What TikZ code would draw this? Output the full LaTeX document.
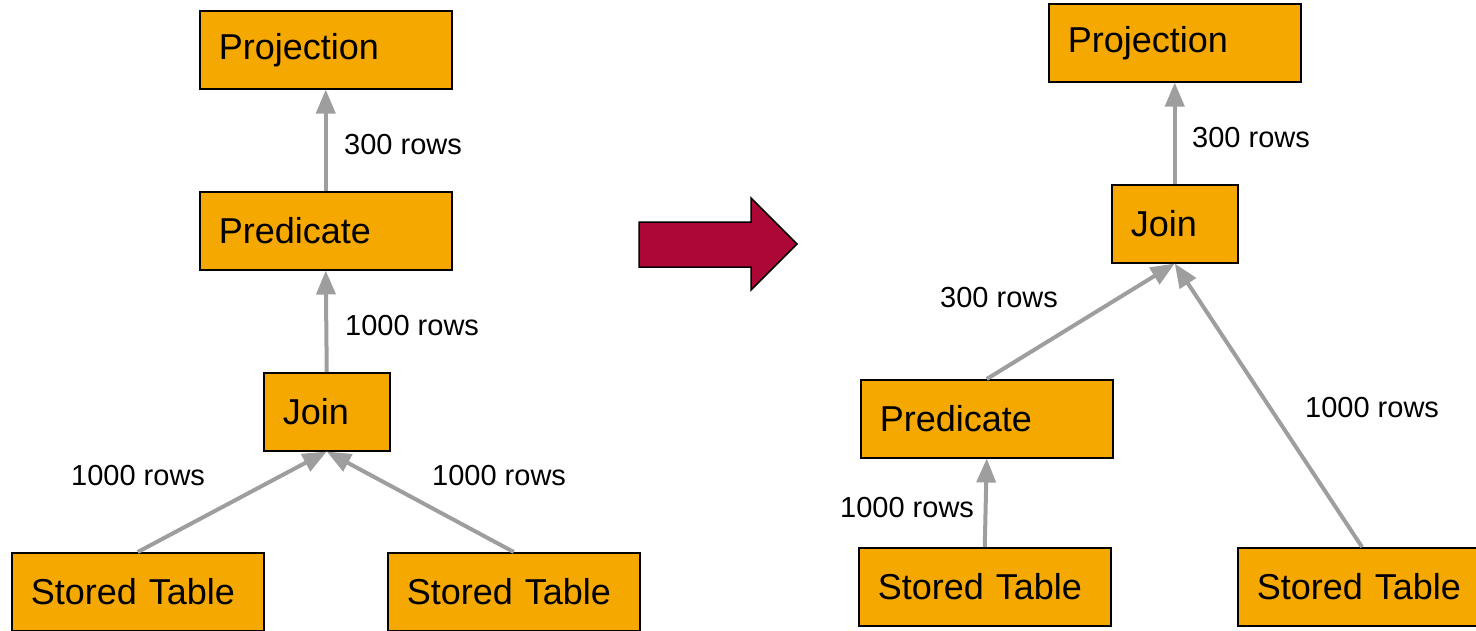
\documentclass[tikz,border=0pt]{standalone}
\usepackage{fontspec}
\setmainfont{Liberation Sans}
\usetikzlibrary{arrows.meta}
\definecolor{boxfill}{HTML}{F5A800}
\definecolor{edgegray}{HTML}{9E9E9E}
\definecolor{bigarrow}{HTML}{AD0737}
\tikzset{
  opbox/.style={draw=black, line width=1.5pt, fill=boxfill, anchor=north west,
    minimum height=78pt, inner xsep=19pt, inner ysep=0pt, align=left,
    font=\fontsize{36}{40}\selectfont},
  widebox/.style={opbox, text width=214pt},
  smallbox/.style={opbox, text width=88pt},
  flow/.style={draw=edgegray, line width=4pt, -{Triangle[length=24pt,width=19pt]}},
  rows/.style={anchor=west, inner sep=0pt, font=\fontsize{29}{32}\selectfont},
}
\begin{document}
\begin{tikzpicture}[x=1pt, y=-1pt]
\useasboundingbox (0,0) rectangle (1476,630);
\clip (0,0) rectangle (1476,630);

% plan before the rewrite
\node[widebox]  (lproj) at (199,10)  {Projection};
\node[widebox]  (lpred) at (199,191) {Predicate};
\node[smallbox] (ljoin) at (263,372) {Join};
\node[widebox]  (lst1)  at (11,552)  {Stored Table};
\node[widebox]  (lst2)  at (387,552) {Stored Table};

\draw[flow] (lpred.north) -- (lproj.south);
\draw[flow] (ljoin.north) -- (lpred.south);
\draw[flow] (lst1.north) -- (ljoin.south);
\draw[flow] (lst2.north) -- (ljoin.south);

\node[rows] (l1) at (344,145) {300 rows};
\node[rows] (l2) at (345,326) {1000 rows};
\node[rows] (l3) at (71,476)  {1000 rows};
\node[rows] (l4) at (432,476) {1000 rows};

% rewrite arrow
\draw[fill=bigarrow, draw=black, line width=1.5pt, line join=miter]
  (639,222) -- (751,222) -- (751,198) -- (797,244) -- (751,290)
  -- (751,267) -- (639,267) -- cycle;

% plan after pushing the predicate down
\node[widebox]  (rproj) at (1048,3)   {Projection};
\node[smallbox] (rjoin) at (1111,184) {Join};
\node[widebox]  (rpred) at (860,379)  {Predicate};
\node[widebox]  (rst1)  at (858,547)  {Stored Table};
\node[opbox, text width=262pt] (rst2) at (1237,547) {Stored Table};

\draw[flow] (rjoin.north) -- (rproj.south);
\draw[flow] (rpred.north) -- (rjoin.south);
\draw[flow] ([xshift=125pt]rst2.north west) -- (rjoin.south);
\draw[flow] (rst1.north) -- (rpred.south);

\node[rows] (r1) at (1192,138) {300 rows};
\node[rows] (r2) at (940,298)  {300 rows};
\node[rows] (r3) at (1305,408) {1000 rows};
\node[rows] (r4) at (840,508)  {1000 rows};
\end{tikzpicture}
\end{document}
